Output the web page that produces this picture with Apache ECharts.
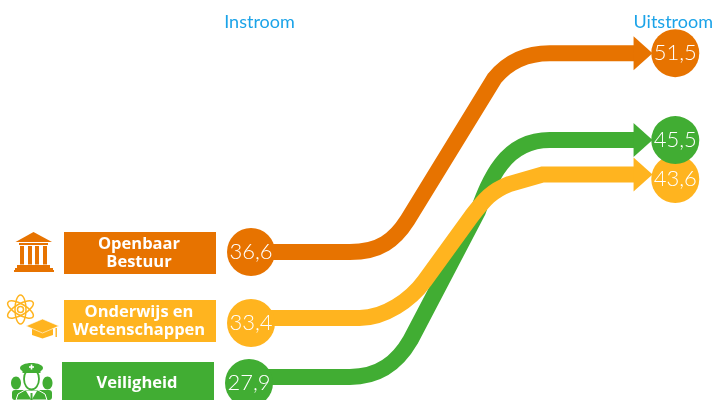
<!DOCTYPE html>
<html>
<head>
<meta charset="utf-8">
<style>
  html, body { margin: 0; padding: 0; background: #fff; }
  #chart { width: 716px; height: 400px; }
</style>
<script src="https://cdn.jsdelivr.net/npm/echarts@6/dist/echarts.min.js"></script>
</head>
<body>
<div id="chart"></div>
<script>
// data
const stages = ['Instroom', 'Uitstroom']
const sectors = ['Openbaar\nBestuur', 'Onderwijs en\nWetenschappen', 'Veiligheid']
const instroom = [36.6, 33.4, 27.9]
const uitstroom = [51.5, 43.6, 45.5]

// styling per sector
const colors = ['#e77300', '#ffb41f', '#41ad33']
const headerColor = '#1ba3e8'
const ribbonWidth = 16
// the picture is not strictly to scale, so marks sit a few px off the value scale
const ribbonNudge = [[-9.5, 0], [11.7, 10.9], [-6.2, 3]]
const circleNudge = [[-9.5, 0], [16.7, 15.4], [-0.2, 3]]
const circleShift = [0, 0, -2]
// ribbon shape as fractions of the horizontal span and of the rise
const routes = [
  [[.233, 0], [.303, 0, .339, .06, .369, .161], [.574, .874], [.609, .965, .656, 1, .704, 1], [.904, 1]],
  [[.256, 0], [.315, 0, .376, .125, .409, .258], [.52, .711], [.551, .829, .567, .885, .609, .934], [.687, 1], [.904, 1]],
  [[.233, 0], [.303, 0, .346, .063, .376, .156], [.534, .696], [.562, .831, .598, 1, .704, 1], [.904, 1]],
]

const chart = echarts.init(document.getElementById('chart'))

const ribbonSeries = (idx, z) => ({
  type: 'custom',
  coordinateSystem: 'cartesian2d',
  silent: true,
  z,
  clip: false,
  data: [[instroom[idx], uitstroom[idx]]],
  encode: { y: [0, 1] },
  renderItem: (params, api) => {
    const a = api.coord([0, api.value(0)])
    const b = api.coord([1, api.value(1)])
    const x0 = a[0]
    const y0 = a[1] + ribbonNudge[idx][0]
    const x1 = b[0]
    const y1 = b[1] + ribbonNudge[idx][1]
    const px = (t) => x0 + t * (x1 - x0)
    const py = (u) => y0 + u * (y1 - y0)
    let d = `M${x0} ${y0}`
    routes[idx].forEach((p) => {
      if (p.length === 2) d += ` L${px(p[0])} ${py(p[1])}`
      else d += ` C${px(p[0])} ${py(p[1])} ${px(p[2])} ${py(p[3])} ${px(p[4])} ${py(p[5])}`
    })
    const baseX = px(.904)
    return {
      type: 'group',
      children: [
        {
          type: 'path',
          shape: { pathData: d },
          style: { fill: 'none', stroke: colors[idx], lineWidth: ribbonWidth },
        },
        {
          type: 'polygon',
          shape: { points: [[baseX - 1, y1 - 17], [baseX + 18, y1], [baseX - 1, y1 + 17]] },
          style: { fill: colors[idx] },
        },
      ],
    }
  },
})

const circleSeries = (idx, z) => ({
  type: 'scatter',
  silent: true,
  z,
  clip: false,
  symbolSize: 48,
  itemStyle: { color: colors[idx], opacity: 1 },
  label: {
    show: true,
    position: 'inside',
    color: '#fff',
    fontFamily: 'Lato',
    fontWeight: 300,
    fontSize: 22,
    formatter: (p) => String(p.value[1]).replace('.', ','),
  },
  data: [
    { value: [0, instroom[idx]], symbolOffset: [circleShift[idx], circleNudge[idx][0]] },
    { value: [1, uitstroom[idx]], symbolOffset: [0, circleNudge[idx][1]] },
  ],
})

// sector boxes on the left
const boxes = [
  { x: 64, y: 232, w: 152, h: 42 },
  { x: 64, y: 300, w: 152, h: 42 },
  { x: 62, y: 362, w: 152, h: 42 },
]
const boxGraphics = boxes.map((b, i) => ({
  type: 'rect',
  shape: { x: b.x, y: b.y, width: b.w, height: b.h },
  style: { fill: colors[i] },
  textContent: {
    style: {
      text: sectors[i],
      fill: '#fff',
      font: '700 16.5px "Open Sans"',
      align: 'center',
      verticalAlign: 'middle',
      lineHeight: 18,
    },
  },
  textConfig: { position: 'inside', offset: [-1, 0] },
}))

// small pictograms, plain shapes
const bankIcon = [
  { type: 'polygon', shape: { points: [[33.5, 232], [52, 242], [15.5, 242]] }, style: { fill: colors[0] } },
  { type: 'rect', shape: { x: 19, y: 243, width: 29, height: 2 }, style: { fill: colors[0] } },
  ...[20, 28, 35, 43].map((x) => ({
    type: 'rect', shape: { x, y: 246, width: 4, height: 18.5 }, style: { fill: colors[0] },
  })),
  { type: 'rect', shape: { x: 17, y: 265, width: 33, height: 3 }, style: { fill: colors[0] } },
  { type: 'rect', shape: { x: 15, y: 268, width: 38, height: 2 }, style: { fill: colors[0] } },
  { type: 'rect', shape: { x: 14, y: 270, width: 40, height: 2 }, style: { fill: colors[0] } },
]

const atomIcon = [30, 90, 150].map((rot) => ({
  type: 'ellipse',
  shape: { cx: 0, cy: 0, rx: 14.5, ry: 5.5 },
  x: 20.5,
  y: 309.5,
  rotation: rot * Math.PI / 180,
  style: { fill: 'none', stroke: colors[1], lineWidth: 1.5 },
})).concat([
  { type: 'circle', shape: { cx: 20.5, cy: 309.5, r: 3 }, style: { fill: 'none', stroke: colors[1], lineWidth: 1.5 } },
])

const capIcon = [
  { type: 'polygon', shape: { points: [[32, 329], [53, 329], [53, 335], [42.5, 338.5], [32, 335]] }, style: { fill: colors[1] } },
  { type: 'polygon', shape: { points: [[42.5, 319], [59, 326], [42.5, 333], [26, 326]] }, style: { fill: colors[1], stroke: '#fff', lineWidth: 0.6 } },
  { type: 'rect', shape: { x: 55.5, y: 328, width: 1.4, height: 9 }, style: { fill: colors[1] } },
]

const guardIcon = [
  { type: 'ellipse', shape: { cx: 16, cy: 383, rx: 5, ry: 6.5 }, style: { fill: colors[2] } },
  { type: 'ellipse', shape: { cx: 47.5, cy: 383, rx: 5, ry: 6.5 }, style: { fill: colors[2] } },
  { type: 'rect', shape: { x: 12, y: 390, width: 40, height: 10, r: 3 }, style: { fill: colors[2] } },
  { type: 'polygon', shape: { points: [[16, 400], [18, 394], [25, 390], [38, 390], [45, 394], [47, 400]] }, style: { fill: colors[2], stroke: '#fff', lineWidth: 1 } },
  { type: 'polygon', shape: { points: [[26, 391], [37, 391], [31.5, 400]] }, style: { fill: '#fff' } },
  { type: 'rect', shape: { x: 30.5, y: 393, width: 2, height: 7 }, style: { fill: colors[2] } },
  { type: 'ellipse', shape: { cx: 31.5, cy: 379, rx: 7.5, ry: 10.5 }, style: { fill: '#fff', stroke: colors[2], lineWidth: 1.8 } },
  { type: 'ellipse', shape: { cx: 31.5, cy: 368, rx: 11.5, ry: 5 }, style: { fill: colors[2] } },
  { type: 'rect', shape: { x: 22.5, y: 369, width: 18, height: 4 }, style: { fill: colors[2] } },
  { type: 'rect', shape: { x: 30.7, y: 364.5, width: 1.6, height: 5 }, style: { fill: '#fff' } },
  { type: 'rect', shape: { x: 29, y: 366.2, width: 5, height: 1.6 }, style: { fill: '#fff' } },
]

chart.setOption({
  animation: false,
  backgroundColor: '#fff',
  grid: { left: 251, right: 40, top: 0, bottom: 0 },
  xAxis: {
    type: 'category',
    data: stages,
    boundaryGap: false,
    position: 'top',
    axisLine: { show: false },
    axisTick: { show: false },
    splitLine: { show: false },
    axisLabel: {
      inside: true,
      interval: 0,
      margin: 13,
      formatter: (v) => (v === stages[0] ? `{a|${v}}` : `{b|${v}}`),
      rich: {
        a: { color: headerColor, fontFamily: 'Lato', fontSize: 18, padding: [0, 0, 0, 17] },
        b: { color: headerColor, fontFamily: 'Lato', fontSize: 18, padding: [0, 4, 0, 0] },
      },
    },
  },
  yAxis: {
    type: 'value',
    show: false,
    min: 26.7,
    max: 55.3,
    splitLine: { show: false },
  },
  series: [
    ribbonSeries(0, 2),
    ribbonSeries(2, 2),
    ribbonSeries(1, 3),
    circleSeries(0, 4),
    circleSeries(1, 4),
    circleSeries(2, 5),
  ],
  graphic: [...boxGraphics, ...bankIcon, ...atomIcon, ...capIcon, ...guardIcon],
})
</script>
</body>
</html>
